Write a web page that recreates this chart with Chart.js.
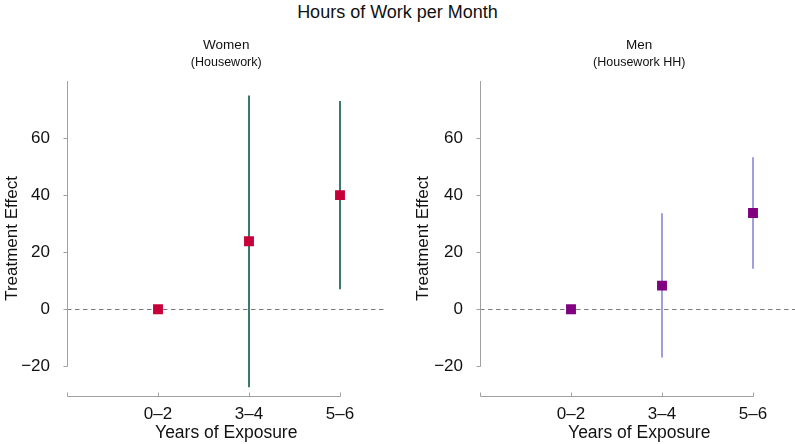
<!DOCTYPE html>
<html>
<head>
<meta charset="utf-8">
<script src="https://cdn.jsdelivr.net/npm/chart.js@4"></script>
<style>
  html, body { margin: 0; padding: 0; background: #fff; overflow: hidden; }
  body { width: 795px; height: 444px; position: relative; font-family: "Liberation Sans", Arial, sans-serif; }
  #main-title { position: absolute; left: 0; top: 0; width: 795px; height: 24px; line-height: 24px;
                text-align: center; font-size: 18px; color: #111; }
  canvas { position: absolute; top: 0; }
  #women-chart { left: 0; }
  #men-chart { left: 411px; }
</style>
</head>
<body>
<div id="main-title">Hours of Work per Month</div>
<canvas id="women-chart" width="400" height="444"></canvas>
<canvas id="men-chart" width="395" height="444"></canvas>
<script>
// categories on the x axis (placed at 1, 2, 3)
const categories = ['0–2', '3–4', '5–6'];
const xTickVals = [0, 1, 2, 3];
const yTicks = [-20, 0, 20, 40, 60];

// women (housework)
const womenEst = [0, 23.9, 40.1];
const womenLow = [null, -27.4, 7.0];
const womenHigh = [null, 75.1, 73.2];

// men (housework HH)
const menEst = [0, 8.3, 33.8];
const menLow = [null, -17.0, 14.2];
const menHigh = [null, 33.7, 53.4];

const FONT = '"Liberation Sans", Arial, sans-serif';
const TEXT = '#111';

// axis lines, tick marks and the dashed zero line
const panelDecor = {
    id: 'panelDecor',
    beforeDatasetsDraw(chart) {
        const {ctx, chartArea, scales: {x, y}} = chart;
        ctx.save();
        ctx.lineWidth = 1;

        ctx.strokeStyle = '#7a7a7a';
        ctx.setLineDash([4.5, 3.5]);
        const y0 = Math.round(y.getPixelForValue(0)) + 0.5;
        ctx.beginPath();
        ctx.moveTo(chartArea.left, y0);
        ctx.lineTo(chartArea.right, y0);
        ctx.stroke();
        ctx.setLineDash([]);

        ctx.strokeStyle = '#a0a0a0';
        ctx.beginPath();
        const xl = Math.round(chartArea.left) + 0.5;
        ctx.moveTo(xl, Math.round(y.getPixelForValue(yTicks[0])) + 0.5);
        ctx.lineTo(xl, chartArea.top);
        yTicks.forEach(v => {
            const p = Math.round(y.getPixelForValue(v)) + 0.5;
            ctx.moveTo(xl, p);
            ctx.lineTo(xl - 4, p);
        });
        const yb = Math.round(chartArea.bottom) + 0.5;
        ctx.moveTo(Math.round(x.getPixelForValue(xTickVals[0])) + 0.5, yb);
        ctx.lineTo(Math.round(x.getPixelForValue(xTickVals[xTickVals.length - 1])) + 0.5, yb);
        xTickVals.forEach(v => {
            const p = Math.round(x.getPixelForValue(v)) + 0.5;
            ctx.moveTo(p, yb);
            ctx.lineTo(p, yb - 4);
        });
        ctx.stroke();
        ctx.restore();
    }
};

const makePanel = (id, title, subtitle, est, low, high, markerColor, barColor, barWidth, yAxisWidth, padRight) => {
    const datasets = [{
        label: 'estimate',
        data: est.map((v, i) => ({x: i + 1, y: v})),
        pointStyle: 'rect',
        pointRadius: 7,
        pointHoverRadius: 7,
        backgroundColor: markerColor,
        borderWidth: 0,
    }];
    low.forEach((lo, i) => {
        if (lo === null) return;
        datasets.push({
            type: 'line',
            label: 'ci',
            data: [{x: i + 1, y: lo}, {x: i + 1, y: high[i]}],
            borderColor: barColor,
            borderWidth: barWidth,
            pointRadius: 0,
        });
    });

    return new Chart(document.getElementById(id), {
        type: 'scatter',
        data: {datasets},
        options: {
            responsive: false,
            animation: false,
            devicePixelRatio: 1,
            layout: {
                padding: {top: 30, right: padRight, bottom: 0, left: 0},
            },
            plugins: {
                legend: {display: false},
                tooltip: {enabled: false},
                title: {
                    display: true,
                    text: title,
                    color: TEXT,
                    fullSize: false,
                    font: {size: 13.5, family: FONT, weight: 'normal'},
                    padding: {top: 7, bottom: 2},
                },
                subtitle: {
                    display: true,
                    text: subtitle,
                    color: TEXT,
                    fullSize: false,
                    font: {size: 12.5, family: FONT},
                    padding: {top: 0, bottom: 10.8},
                },
            },
            scales: {
                x: {
                    type: 'linear',
                    min: 0,
                    max: 3.5,
                    afterBuildTicks: s => { s.ticks = xTickVals.map(v => ({value: v})); },
                    afterFit: s => { s.height = 48; s.paddingLeft = 0; s.paddingRight = 0; },
                    ticks: {
                        callback: v => v === 0 ? '' : categories[v - 1],
                        color: TEXT,
                        font: {size: 17, family: FONT},
                        padding: 0,
                        autoSkip: false,
                        maxRotation: 0,
                    },
                    grid: {display: false},
                    border: {display: false},
                    title: {
                        display: true,
                        text: 'Years of Exposure',
                        color: TEXT,
                        font: {size: 17.5, family: FONT},
                        padding: {top: 0, bottom: 0.5},
                    },
                },
                y: {
                    type: 'linear',
                    min: -30.5,
                    max: 80.2,
                    afterBuildTicks: s => { s.ticks = yTicks.map(v => ({value: v})); },
                    afterFit: s => { s.width = yAxisWidth; s.paddingTop = 0; s.paddingBottom = 0; },
                    ticks: {
                        callback: v => v < 0 ? '\u2212' + Math.abs(v) : String(v),
                        color: TEXT,
                        font: {size: 17, family: FONT},
                        padding: 9,
                    },
                    grid: {display: false},
                    border: {display: false},
                    title: {
                        display: true,
                        text: 'Treatment Effect',
                        color: TEXT,
                        font: {size: 17, family: FONT},
                        padding: {top: 2, bottom: 0},
                    },
                },
            },
        },
        plugins: [panelDecor],
    });
};

makePanel('women-chart', 'Women', '(Housework)', womenEst, womenLow, womenHigh,
          '#c8003a', '#3a7a6d', 2, 67, 14.5);
makePanel('men-chart', 'Men', '(Housework HH)', menEst, menLow, menHigh,
          '#800080', '#a09ee0', 2, 69, 7.5);
</script>
</body>
</html>
